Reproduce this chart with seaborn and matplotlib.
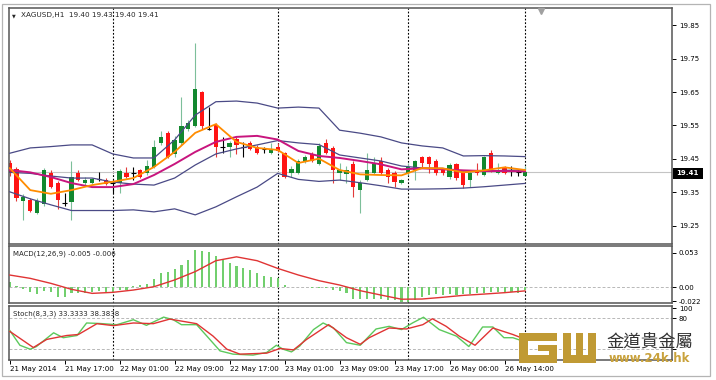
import matplotlib
matplotlib.use("Agg")
import matplotlib.pyplot as plt
import seaborn as sns
from matplotlib.patches import Rectangle

sns.set_style("white")
plt.rcParams['font.family'] = ['DejaVu Sans', 'Noto Sans CJK TC']

# ---------------- data ----------------
bars = list(range(76))
opens = [19.437, 19.419, 19.325, 19.327, 19.289, 19.316, 19.409, 19.378, 19.319, 19.322,
         19.409, 19.378, 19.378, 19.390, 19.387, 19.378, 19.378, 19.408, 19.408, 19.417,
         19.408, 19.426, 19.498, 19.528, 19.465, 19.498, 19.539, 19.548, 19.650, 19.539,
         19.551, 19.486, 19.486, 19.510, 19.486, 19.498, 19.486, 19.480, 19.468, 19.486,
         19.468, 19.408, 19.408, 19.441, 19.465, 19.435, 19.498, 19.483, 19.408, 19.405,
         19.435, 19.357, 19.387, 19.408, 19.444, 19.417, 19.408, 19.378, 19.408, 19.417,
         19.456, 19.456, 19.444, 19.417, 19.396, 19.435, 19.408, 19.387, 19.417, 19.402,
         19.468, 19.408, 19.426, 19.417, 19.411, 19.400]
highs = [19.447, 19.427, 19.345, 19.333, 19.333, 19.423, 19.417, 19.384, 19.349, 19.444,
         19.417, 19.396, 19.393, 19.410, 19.393, 19.387, 19.420, 19.426, 19.426, 19.420,
         19.447, 19.507, 19.534, 19.534, 19.519, 19.635, 19.566, 19.796, 19.653, 19.605,
         19.557, 19.516, 19.504, 19.516, 19.501, 19.504, 19.492, 19.486, 19.498, 19.498,
         19.471, 19.429, 19.450, 19.462, 19.471, 19.498, 19.510, 19.489, 19.438, 19.429,
         19.444, 19.387, 19.468, 19.456, 19.456, 19.423, 19.414, 19.390, 19.438, 19.447,
         19.459, 19.459, 19.450, 19.423, 19.438, 19.438, 19.414, 19.414, 19.438, 19.459,
         19.477, 19.438, 19.429, 19.429, 19.420, 19.430]
lows = [19.400, 19.323, 19.268, 19.292, 19.286, 19.310, 19.363, 19.301, 19.310, 19.268,
        19.384, 19.372, 19.374, 19.383, 19.372, 19.349, 19.349, 19.393, 19.387, 19.393,
        19.402, 19.423, 19.492, 19.453, 19.456, 19.492, 19.533, 19.545, 19.539, 19.536,
        19.456, 19.468, 19.456, 19.465, 19.456, 19.477, 19.465, 19.468, 19.465, 19.471,
        19.393, 19.396, 19.405, 19.438, 19.441, 19.432, 19.465, 19.378, 19.387, 19.378,
        19.337, 19.289, 19.384, 19.405, 19.402, 19.378, 19.366, 19.375, 19.402, 19.387,
        19.426, 19.408, 19.402, 19.402, 19.390, 19.387, 19.363, 19.366, 19.402, 19.399,
        19.411, 19.405, 19.405, 19.399, 19.399, 19.400]
closes = [19.407, 19.333, 19.337, 19.295, 19.325, 19.417, 19.367, 19.328, 19.319, 19.396,
          19.387, 19.387, 19.390, 19.390, 19.375, 19.378, 19.414, 19.396, 19.408, 19.396,
          19.429, 19.486, 19.516, 19.456, 19.507, 19.549, 19.557, 19.659, 19.548, 19.539,
          19.486, 19.486, 19.498, 19.492, 19.486, 19.480, 19.468, 19.480, 19.477, 19.474,
          19.396, 19.420, 19.444, 19.456, 19.444, 19.489, 19.468, 19.417, 19.417, 19.417,
          19.366, 19.378, 19.417, 19.435, 19.408, 19.396, 19.381, 19.387, 19.426, 19.444,
          19.438, 19.435, 19.408, 19.408, 19.432, 19.393, 19.372, 19.408, 19.408, 19.456,
          19.417, 19.417, 19.408, 19.417, 19.411, 19.410]

line_idx = [0, 3, 6, 9, 12, 15, 18, 21, 24, 27, 30, 33, 36, 39, 42, 45, 48, 51, 54, 57,
            60, 63, 66, 69, 72, 75]
bb_upper = [19.467, 19.483, 19.487, 19.492, 19.492, 19.465, 19.453, 19.453, 19.507, 19.581,
            19.621, 19.623, 19.617, 19.602, 19.605, 19.602, 19.536, 19.527, 19.516, 19.498,
            19.489, 19.483, 19.459, 19.460, 19.459, 19.457]
bb_lower = [19.352, 19.331, 19.313, 19.296, 19.296, 19.296, 19.298, 19.292, 19.301, 19.283,
            19.307, 19.337, 19.366, 19.407, 19.389, 19.383, 19.387, 19.379, 19.370, 19.360,
            19.360, 19.361, 19.363, 19.367, 19.372, 19.377]
bb_middle = [19.410, 19.407, 19.399, 19.393, 19.393, 19.381, 19.375, 19.372, 19.393, 19.432,
             19.465, 19.480, 19.492, 19.505, 19.498, 19.493, 19.462, 19.453, 19.444, 19.429,
             19.423, 19.422, 19.411, 19.414, 19.416, 19.417]
ma_slow = [19.417, 19.410, 19.396, 19.378, 19.366, 19.366, 19.375, 19.402, 19.435, 19.471,
           19.501, 19.516, 19.519, 19.508, 19.474, 19.459, 19.453, 19.444, 19.434, 19.419,
           19.422, 19.419, 19.416, 19.414, 19.414, 19.413]
ma_fast = [19.423, 19.357, 19.346, 19.357, 19.372, 19.382, 19.393, 19.426, 19.471, 19.528,
           19.554, 19.501, 19.483, 19.477, 19.438, 19.451, 19.417, 19.404, 19.402, 19.401,
           19.423, 19.422, 19.410, 19.416, 19.425, 19.417]

macd_hist = [0.008, 0.0016, -0.0036, -0.007, -0.011, -0.006, -0.007, -0.015, -0.016, -0.010,
             -0.009, -0.009, -0.007, -0.006, -0.007, -0.009, -0.005, -0.004, 0.002, 0.003,
             0.005, 0.012, 0.022, 0.023, 0.028, 0.034, 0.042, 0.057, 0.056, 0.055,
             0.048, 0.042, 0.037, 0.033, 0.029, 0.027, 0.022, 0.017, 0.015, 0.014,
             0.003, 0.0003, -0.0005, -0.0005, -0.001, -0.001, -0.002, -0.005, -0.006, -0.009,
             -0.018, -0.019, -0.018, -0.019, -0.019, -0.020, -0.020, -0.023, -0.023, -0.020,
             -0.016, -0.012, -0.011, -0.012, -0.011, -0.012, -0.011, -0.011, -0.010, -0.009,
             -0.007, -0.007, -0.007, -0.007, -0.009, -0.005]
macd_signal = [0.0187, 0.0135, 0.0057, -0.0036, -0.0099, -0.0083, -0.0047, 0.0005, 0.011, 0.024,
               0.041, 0.047, 0.041, 0.029, 0.0187, 0.0099, 0.0031, -0.0057, -0.0125, -0.019,
               -0.0187, -0.016, -0.013, -0.011, -0.0088, -0.006]

stoch_main_x = [0, 1.5, 3, 3.9, 6.4, 7.8, 9.8, 11.2, 13.1, 15.6, 18, 19.9, 22.4, 23.8, 25,
                27.2, 28.7, 30.6, 32.5, 35.4, 37.4, 38.8, 39.8, 41, 42.2, 44.2, 45.6, 47.1,
                49, 51, 53.3, 55.2, 57, 58.6, 60.2, 62.5, 65, 66.8, 68.8, 70.3, 71.9, 73.2, 75]
stoch_main = [56.5, 26.5, 18.6, 24, 51.4, 41.6, 46, 71, 70, 67.6, 77.5, 66.3, 82.7, 77.5, 67.6,
              67.6, 44.7, 15.3, 8.8, 6.9, 12.2, 26.5, 18.6, 13.3, 25, 57.8, 71, 61.2,
              31.8, 26.5, 59, 64.3, 57.8, 71, 82.5, 57.8, 44.7, 24, 63, 63, 41.6, 41.6, 33.3]
stoch_signal_x = [0, 3.45, 5.4, 8.3, 10, 12.7, 15.1, 18, 20.9, 23.3, 27.2, 29.6, 31.6, 33.5,
                  37.4, 39.3, 41.3, 43.2, 46.4, 49, 51, 52.3, 55.2, 57.7, 60.1, 61.5, 63.5,
                  65.4, 67.7, 70.3, 73.2, 75]
stoch_signal = [54.5, 22, 38.2, 46, 48, 69.6, 65.7, 71, 69.6, 78.8, 69.6, 44.7, 18.6, 8.8,
                10.8, 20, 17.3, 38.2, 67.6, 41.6, 28.4, 41.6, 61, 59, 67.6, 79.4, 64.3,
                44.7, 26.5, 61, 48, 38.4]

sep_bars = [15, 39, 58, 75]
xlabel_bars = [0, 8, 16, 24, 32, 40, 48, 56, 64, 72]
xlabels = ["21 May 2014", "21 May 17:00", "22 May 01:00", "22 May 09:00", "22 May 17:00",
           "23 May 01:00", "23 May 09:00", "23 May 17:00", "26 May 06:00", "26 May 14:00"]
price_ticks = [19.25, 19.35, 19.45, 19.55, 19.65, 19.75, 19.85]
macd_ticks = [-0.022, 0.0, 0.053]
macd_ticklabels = ["-0.022", "0.00", "0.053"]
stoch_ticks = [20, 80, 100]
stoch_ticklabels = ["", "80", "100"]
last_price = 19.41
title = "XAGUSD,H1  19.40 19.43 19.40 19.41"
macd_title = "MACD(12,26,9) -0.005 -0.006"
stoch_title = "Stoch(8,3,3) 33.3333 38.3838"

# ---------------- layout ----------------
W, H = 716, 380
fig = plt.figure(figsize=(W / 100, H / 100), dpi=100)
fig.patch.set_facecolor('white')


def rect(x0, y0, x1, y1):
    return [x0 / W, 1 - y1 / H, (x1 - x0) / W, (y1 - y0) / H]


def ftxt(x, y, s, **kw):
    fig.text(x / W, 1 - y / H, s, **kw)


ax_main = fig.add_axes(rect(9, 8, 672, 244))
ax_macd = fig.add_axes(rect(9, 246, 672, 303))
ax_st = fig.add_axes(rect(9, 306, 672, 360))

XL = (-0.09, 96.35)
FS = 5.0
for ax in (ax_main, ax_macd, ax_st):
    ax.set_xlim(*XL)
    for s in ax.spines.values():
        s.set_color('#555555')
        s.set_linewidth(1.1)
    ax.yaxis.tick_right()
    ax.tick_params(axis='y', direction='out', length=3, width=0.7, pad=2,
                   labelsize=FS, colors='black', right=True, left=False)
    ax.tick_params(axis='x', bottom=False, labelbottom=False)
    for b in sep_bars:
        ax.axvline(b, color='black', linestyle=(0, (1.6, 1.6)), linewidth=0.8, zorder=1)

# ---------------- main panel ----------------
ax_main.set_ylim(19.196, 19.901)
ax_main.axhline(last_price, color='#c4c4c4', linewidth=0.8, zorder=1)

bull_body, bear_body = '#13882f', '#ff1414'
bull_wick, bear_wick = '#7dbf9a', '#e23a3a'
for i, o, h, l, c in zip(bars, opens, highs, lows, closes):
    if abs(c - o) < 1e-9:
        ax_main.vlines(i, l, h, color='black', linewidth=0.8, zorder=2)
        ax_main.hlines(o, i - 0.33, i + 0.33, color='black', linewidth=0.8, zorder=2)
    else:
        up = c > o
        ax_main.vlines(i, l, h, color=bull_wick if up else bear_wick, linewidth=0.8, zorder=2)
        ax_main.bar(i, abs(c - o), bottom=min(o, c), width=0.62,
                    color=bull_body if up else bear_body, linewidth=0, zorder=2.5)

band_col = '#4a4a86'
sns.lineplot(x=line_idx, y=bb_upper, ax=ax_main, color=band_col, linewidth=0.9, zorder=3)
sns.lineplot(x=line_idx, y=bb_lower, ax=ax_main, color=band_col, linewidth=0.9, zorder=3)
sns.lineplot(x=line_idx, y=bb_middle, ax=ax_main, color=band_col, linewidth=0.9, zorder=3)
sns.lineplot(x=line_idx, y=ma_slow, ax=ax_main, color='#c8157e', linewidth=1.4, zorder=3)
sns.lineplot(x=line_idx, y=ma_fast, ax=ax_main, color='#ff8c00', linewidth=1.3, zorder=3)
ax_main.set_yticks(price_ticks)
ax_main.set_yticklabels([f"{v:.2f}" for v in price_ticks])
ax_main.set_xlabel('')
ax_main.set_ylabel('')
# shift marker
ax_main.plot([77.3], [19.893], marker='v', color='#a0a0a0', markersize=4, clip_on=False, zorder=4)

# ---------------- MACD ----------------
ax_macd.set_ylim(-0.0249, 0.0639)
ax_macd.axhline(0, color='#b8b8b8', linestyle=(0, (3, 2)), linewidth=0.7, zorder=1)
ax_macd.bar(bars, macd_hist, width=0.3, color='#72cf6e', linewidth=0, zorder=2)
sns.lineplot(x=line_idx, y=macd_signal, ax=ax_macd, color='#e03434', linewidth=1.0, zorder=3)
ax_macd.set_yticks(macd_ticks)
ax_macd.set_yticklabels(macd_ticklabels)
ax_macd.set_xlabel('')
ax_macd.set_ylabel('')

# ---------------- Stochastic ----------------
ax_st.set_ylim(-2.9, 104.9)
for lvl in (20, 80):
    ax_st.axhline(lvl, color='#b8b8b8', linestyle=(0, (3, 2)), linewidth=0.7, zorder=1)
sns.lineplot(x=stoch_main_x, y=stoch_main, ax=ax_st, color='#5cc95c', linewidth=1.0, zorder=3)
sns.lineplot(x=stoch_signal_x, y=stoch_signal, ax=ax_st, color='#e03434', linewidth=1.0, zorder=3)
ax_st.set_yticks(stoch_ticks)
ax_st.set_yticklabels(stoch_ticklabels)
ax_st.set_xlabel('')
ax_st.set_ylabel('')
ax_st.set_xticks(xlabel_bars)
ax_st.set_xticklabels(xlabels)
ax_st.tick_params(axis='x', bottom=True, labelbottom=True, direction='out', length=3,
                  width=0.7, pad=1.5, labelsize=5.1, colors='black')
for t in ax_st.get_xticklabels():
    t.set_ha('left')

# ---------------- texts ----------------
ftxt(14, 15.5, '▼', fontsize=3.5, va='center', ha='center')
ftxt(21, 15.5, title, fontsize=5.2, va='center', ha='left')
ftxt(13, 254, macd_title, fontsize=5.0, va='center', ha='left')
ftxt(13, 314, stoch_title, fontsize=5.0, va='center', ha='left')

# last price box
fig.patches.append(Rectangle((673 / W, 1 - 179 / H), 30 / W, 11 / H, transform=fig.transFigure,
                             facecolor='black', edgecolor='none', zorder=5))
ftxt(676, 173.5, f"{last_price:.2f}", fontsize=5.0, color='white', va='center', ha='left',
     fontweight='bold', zorder=6)

# outer frame
fig.patches.append(Rectangle((2 / W, 1 - 376 / H), 708 / W, 372 / H, transform=fig.transFigure,
                             fill=False, edgecolor='#b4b4b4', linewidth=0.9, zorder=0))

# logo (decorative)
gold = '#c09a34'
logo_rects = [(519, 333, 557, 341), (519, 333, 528, 363), (519, 355, 557, 363),
              (549, 345, 557, 363), (538, 345, 557, 351),
              (563, 333, 571, 363), (576, 333, 583, 358), (588, 333, 596, 363),
              (563, 355, 596, 363)]
for (x0, y0, x1, y1) in logo_rects:
    fig.patches.append(Rectangle((x0 / W, 1 - y1 / H), (x1 - x0) / W, (y1 - y0) / H,
                                 transform=fig.transFigure, facecolor=gold, edgecolor='none',
                                 zorder=7))
ftxt(606, 342, "金道貴金屬", fontsize=12.5, family=['Noto Sans CJK TC', 'DejaVu Sans'],
     color='#333333', va='center', ha='left', zorder=8)
ftxt(609, 359, "www.24k.hk", fontsize=8.5, color='#c9a23c', fontweight='bold',
     va='center', ha='left', zorder=8)

fig.savefig('out.png', dpi=100, facecolor='white')
